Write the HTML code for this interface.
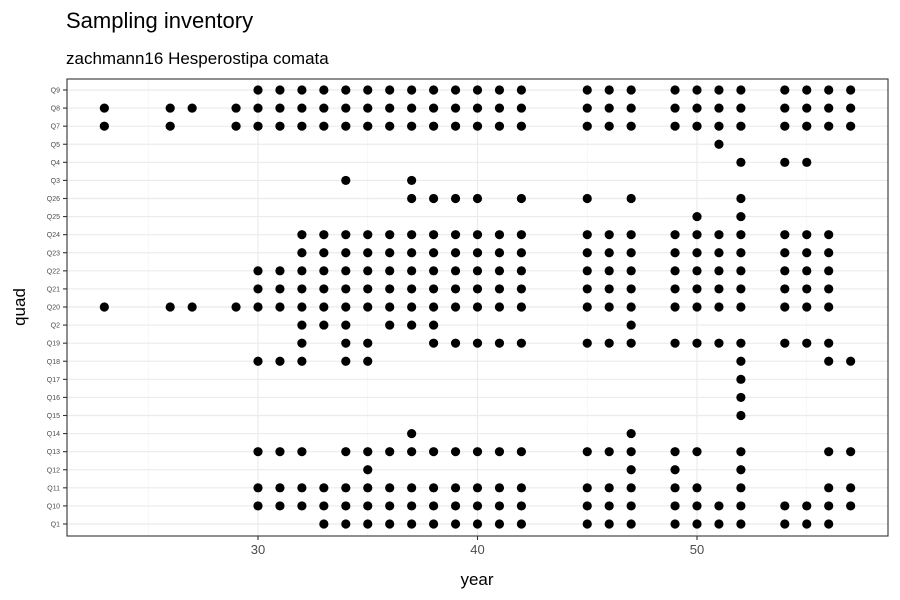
<!DOCTYPE html>
<html><head><meta charset="utf-8"><style>
body{margin:0;background:#fff;font-family:"Liberation Sans",Arial,sans-serif}
svg{display:block}
</style></head><body>
<svg id="chart" width="900" height="600" xmlns="http://www.w3.org/2000/svg">
<text x="66" y="28" font-size="22" fill="#000">Sampling inventory</text>
<text x="66" y="64" font-size="17" fill="#000">zachmann16 Hesperostipa comata</text>
<text x="477" y="585" font-size="17" text-anchor="middle" fill="#000">year</text>
<text transform="translate(25,307) rotate(-90)" font-size="17" text-anchor="middle" fill="#000">quad</text>
<g id="grid"></g><g id="pts"></g><g id="axes"></g>
</svg>
<script>
const quads = ["Q9","Q8","Q7","Q5","Q4","Q3","Q26","Q25","Q24","Q23","Q22","Q21","Q20","Q2","Q19","Q18","Q17","Q16","Q15","Q14","Q13","Q12","Q11","Q10","Q1"];
const xTicks = [30,40,50];
const xMinor = [25,35,45,55];
const r3042 = [30,31,32,33,34,35,36,37,38,39,40,41,42];
const r3242 = [32,33,34,35,36,37,38,39,40,41,42];
const rA = [45,46,47,49,50,51,52];
const years = {
 Q9:[...r3042,...rA,54,55,56,57],
 Q8:[23,26,27,29,...r3042,...rA,54,55,56,57],
 Q7:[23,26,29,...r3042,...rA,54,55,56,57],
 Q5:[51],
 Q4:[52,54,55],
 Q3:[34,37],
 Q26:[37,38,39,40,42,45,47,52],
 Q25:[50,52],
 Q24:[...r3242,...rA,54,55,56],
 Q23:[...r3242,...rA,54,55,56],
 Q22:[...r3042,...rA,54,55,56],
 Q21:[...r3042,...rA,54,55,56],
 Q20:[23,26,27,29,...r3042,...rA,54,55,56],
 Q2:[32,33,34,36,37,38,47],
 Q19:[32,34,35,38,39,40,41,42,...rA,54,55,56],
 Q18:[30,31,32,34,35,52,56,57],
 Q17:[52],Q16:[52],Q15:[52],
 Q14:[37,47],
 Q13:[30,31,32,34,35,36,37,38,39,40,41,42,45,46,47,49,50,52,56,57],
 Q12:[35,47,49,52],
 Q11:[...r3042,45,46,47,49,50,52,56,57],
 Q10:[...r3042,...rA,54,55,56,57],
 Q1:[33,34,35,36,37,38,39,40,41,42,...rA,54,55,56]
};
const NS="http://www.w3.org/2000/svg";
const L=67,R=888,T=79,B=536;
const xs=y=>258+(y-30)*21.95;
const ys=i=>90+i*(524-90)/(quads.length-1);
function mk(t,a,p){const e=document.createElementNS(NS,t);for(const k in a)e.setAttribute(k,a[k]);p.appendChild(e);return e;}
const grid=document.getElementById('grid'),pts=document.getElementById('pts'),axes=document.getElementById('axes');
mk('rect',{x:L,y:T,width:R-L,height:B-T,fill:'#fff'},grid);
xMinor.forEach(v=>{const e=mk('line',{x1:xs(v),x2:xs(v),y1:T,y2:B,stroke:'#f2f2f2','stroke-width':0.6},grid);

});
xTicks.forEach(v=>{const e=mk('line',{x1:xs(v),x2:xs(v),y1:T,y2:B,stroke:'#ebebeb','stroke-width':1.2},grid);


const t=mk('line',{x1:xs(v),x2:xs(v),y1:B,y2:B+4,stroke:'#333','stroke-width':1.1},axes);


const l=mk('text',{x:xs(v),y:B+18,'font-size':13,'text-anchor':'middle',fill:'#4d4d4d'},axes);l.textContent=v;

});
quads.forEach((q,i)=>{const y=ys(i);
const g=mk('line',{x1:L,x2:R,y1:y,y2:y,stroke:'#ebebeb','stroke-width':1.2},grid);


const t=mk('line',{x1:L-4,x2:L,y1:y,y2:y,stroke:'#333','stroke-width':1.1},axes);


const l=mk('text',{x:L-7,y:y+2.5,'font-size':7,'text-anchor':'end',fill:'#4d4d4d'},axes);l.textContent=q;


years[q].forEach(yr=>{const c=mk('circle',{cx:xs(yr),cy:y,r:4.6,fill:'#000'},pts);

});});
const bd=mk('rect',{x:L,y:T,width:R-L,height:B-T,fill:'none',stroke:'#333','stroke-width':1.1},axes);


</script>
</body></html>
